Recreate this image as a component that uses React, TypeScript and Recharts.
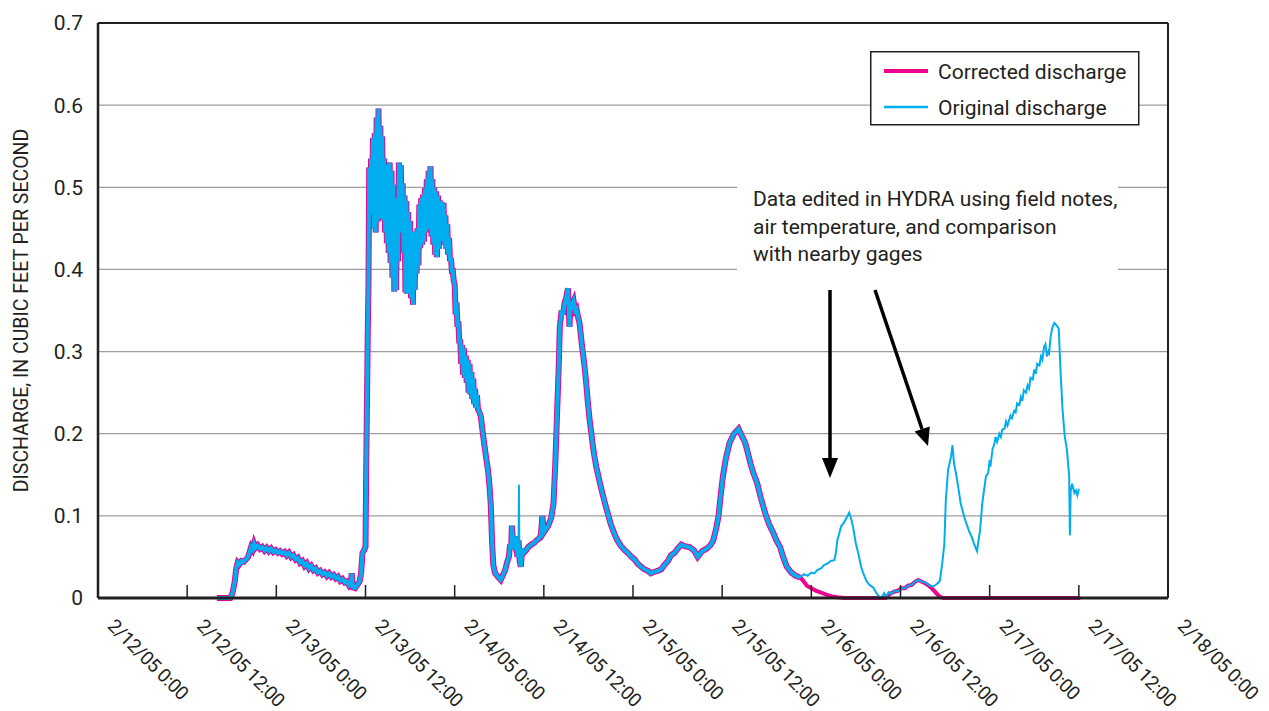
import React from "react";
import { LineChart, Line, XAxis, YAxis, CartesianGrid, ReferenceLine, Legend } from "recharts";

const FONT = "Roboto, 'Liberation Sans', sans-serif";
const INK = "#231f20";
const MAGENTA = "#ec008c";
const CYAN = "#00aeef";

// x is hours after 2/12/05 0:00
const xTicks = [0, 12, 24, 36, 48, 60, 72, 84, 96, 108, 120, 132, 144];
const xTickLabels = [
  "2/12/05 0:00", "2/12/05 12:00", "2/13/05 0:00", "2/13/05 12:00", "2/14/05 0:00",
  "2/14/05 12:00", "2/15/05 0:00", "2/15/05 12:00", "2/16/05 0:00", "2/16/05 12:00",
  "2/17/05 0:00", "2/17/05 12:00", "2/18/05 0:00",
];
const yTicks = [0, 0.1, 0.2, 0.3, 0.4, 0.5, 0.6, 0.7];
const yTickLabels = ["0", "0.1", "0.2", "0.3", "0.4", "0.5", "0.6", "0.7"];

// [hour, cfs] - record shared by both series
const baseflow: [number, number][] = [
  [16.0, 0], [17.0, 0], [17.8, 0], [18.1, 0.006], [18.4, 0.02], [18.6, 0.036], [18.8, 0.043],
  [19.0, 0.041], [19.3, 0.045], [19.6, 0.044], [19.9, 0.047], [20.2, 0.05], [20.4, 0.056],
  [20.6, 0.062], [20.8, 0.059], [21.0, 0.066], [21.2, 0.061], [21.5, 0.064], [21.8, 0.06],
  [22.1, 0.062], [22.4, 0.058], [22.7, 0.061], [23.0, 0.057], [23.3, 0.06], [23.6, 0.056],
  [23.9, 0.058], [24.2, 0.055], [24.5, 0.057], [24.8, 0.054], [25.1, 0.056], [25.4, 0.052],
  [25.7, 0.055], [26.0, 0.05], [26.3, 0.052], [26.6, 0.047], [26.9, 0.049], [27.2, 0.043],
  [27.5, 0.045], [27.8, 0.039], [28.1, 0.042], [28.4, 0.036], [28.7, 0.039], [29.0, 0.034],
  [29.3, 0.036], [29.6, 0.031], [29.9, 0.033], [30.2, 0.029], [30.5, 0.031], [30.8, 0.027],
  [31.1, 0.03], [31.4, 0.026], [31.7, 0.028], [32.0, 0.024], [32.3, 0.026], [32.6, 0.021],
  [32.9, 0.023], [33.2, 0.019], [33.5, 0.02], [33.8, 0.015], [34.0, 0.017], [34.15, 0.03],
  [34.3, 0.013], [34.6, 0.012], [34.9, 0.016], [35.2, 0.02], [35.4, 0.03], [35.6, 0.055],
  [35.8, 0.058], [36.0, 0.062], [36.1, 0.16], [36.2, 0.24], [36.3, 0.32], [36.4, 0.38],
];

// [hour, upper, lower] - noisy band of the 2/13 storm peak
const stormBand: [number, number, number][] = [
  [36.5, 0.524, 0.467], [36.75, 0.535, 0.47], [37.0, 0.56, 0.45], [37.25, 0.566, 0.445],
  [37.5, 0.585, 0.458], [37.75, 0.596, 0.47], [38.0, 0.575, 0.462], [38.25, 0.562, 0.46],
  [38.5, 0.535, 0.445], [38.75, 0.528, 0.432], [39.0, 0.526, 0.42], [39.25, 0.53, 0.408],
  [39.5, 0.52, 0.39], [39.75, 0.503, 0.373], [40.0, 0.487, 0.375], [40.25, 0.479, 0.41],
  [40.5, 0.53, 0.445], [40.75, 0.527, 0.45], [41.0, 0.505, 0.42], [41.25, 0.49, 0.372],
  [41.5, 0.483, 0.37], [41.75, 0.47, 0.372], [42.0, 0.459, 0.365], [42.25, 0.446, 0.357],
  [42.5, 0.446, 0.375], [42.75, 0.446, 0.395], [43.0, 0.45, 0.405], [43.25, 0.479, 0.426],
  [43.5, 0.487, 0.43], [43.75, 0.491, 0.434], [44.0, 0.499, 0.445], [44.25, 0.51, 0.45],
  [44.5, 0.52, 0.449], [44.75, 0.526, 0.44], [45.0, 0.51, 0.43], [45.25, 0.5, 0.418],
  [45.5, 0.495, 0.415], [45.75, 0.49, 0.425], [46.0, 0.484, 0.438], [46.25, 0.482, 0.435],
  [46.5, 0.481, 0.43], [46.75, 0.466, 0.425], [47.0, 0.455, 0.418], [47.25, 0.438, 0.41],
  [47.5, 0.414, 0.398], [47.75, 0.398, 0.386], [48.0, 0.382, 0.345], [48.25, 0.36, 0.33],
  [48.5, 0.337, 0.31], [48.75, 0.315, 0.285], [49.0, 0.308, 0.272], [49.25, 0.304, 0.268],
  [49.5, 0.295, 0.262], [49.75, 0.29, 0.25], [50.0, 0.285, 0.248], [50.25, 0.275, 0.242],
  [50.5, 0.267, 0.236], [50.75, 0.255, 0.232], [51.0, 0.247, 0.23],
];

const recession: [number, number][] = [
  [51.25, 0.228], [51.5, 0.222], [51.8, 0.2], [52.0, 0.186], [52.25, 0.17], [52.5, 0.155],
  [52.7, 0.135], [52.85, 0.115], [52.95, 0.09], [53.05, 0.065], [53.2, 0.04], [53.45, 0.03],
  [53.8, 0.026], [54.2, 0.022], [54.5, 0.028], [54.8, 0.034], [55.1, 0.045], [55.3, 0.05],
  [55.45, 0.065], [55.6, 0.06], [55.7, 0.088], [55.85, 0.07], [56.0, 0.066], [56.2, 0.075],
  [56.45, 0.05], [56.6, 0.07], [56.75, 0.045], [56.9, 0.038], [57.1, 0.06], [57.3, 0.055],
  [57.6, 0.058], [57.9, 0.062], [58.3, 0.065], [58.7, 0.067], [59.0, 0.07], [59.3, 0.072],
  [59.6, 0.076], [59.8, 0.1], [60.0, 0.08], [60.3, 0.084], [60.6, 0.088], [61.0, 0.098],
  [61.3, 0.115], [61.55, 0.165], [61.8, 0.23], [62.0, 0.28], [62.15, 0.33], [62.4, 0.35],
  [62.6, 0.345], [62.8, 0.36], [63.0, 0.365], [63.25, 0.377], [63.45, 0.33], [63.55, 0.35],
  [63.75, 0.357], [64.0, 0.362], [64.2, 0.35], [64.4, 0.352], [64.6, 0.342], [64.8, 0.335],
  [65.1, 0.31], [65.3, 0.295], [65.5, 0.28], [65.7, 0.262], [65.9, 0.24], [66.15, 0.218],
  [66.4, 0.2], [66.6, 0.185], [66.8, 0.173], [67.05, 0.16], [67.3, 0.15], [67.6, 0.138],
  [67.95, 0.125], [68.3, 0.113], [68.6, 0.103], [69.0, 0.09], [69.5, 0.078], [69.9, 0.07],
  [70.4, 0.063], [70.9, 0.058], [71.3, 0.055], [71.8, 0.05], [72.2, 0.047], [72.6, 0.042],
  [73.1, 0.038], [73.5, 0.035], [74.0, 0.033], [74.4, 0.03], [74.9, 0.032], [75.3, 0.033],
  [75.8, 0.035], [76.2, 0.04], [76.7, 0.045], [77.1, 0.052], [77.6, 0.055], [78.0, 0.06],
  [78.5, 0.065], [79.0, 0.063], [79.6, 0.062], [80.2, 0.058], [80.7, 0.05], [81.3, 0.057],
  [81.9, 0.06], [82.4, 0.064], [82.8, 0.07], [83.2, 0.085], [83.5, 0.099], [83.8, 0.125],
  [84.1, 0.148], [84.5, 0.17], [85.0, 0.189], [85.6, 0.2], [86.2, 0.206], [86.6, 0.198],
  [87.1, 0.189], [87.5, 0.175], [87.8, 0.164], [88.2, 0.152], [88.7, 0.14], [89.2, 0.122],
  [89.8, 0.103], [90.3, 0.09], [90.9, 0.079], [91.3, 0.07], [91.8, 0.062], [92.2, 0.05],
  [92.7, 0.038], [93.3, 0.031], [93.9, 0.027], [94.5, 0.025],
];

// after the two records split
const originalTail: [number, number][] = [
  [94.5, 0.025], [95.0, 0.029], [95.5, 0.027], [96.0, 0.031], [96.4, 0.03], [96.8, 0.034],
  [97.3, 0.036], [97.7, 0.04], [98.2, 0.042], [98.6, 0.045], [99.1, 0.046], [99.3, 0.055],
  [99.5, 0.07], [99.8, 0.08], [100.0, 0.087], [100.4, 0.092], [100.7, 0.097], [101.1, 0.104],
  [101.4, 0.095], [101.6, 0.087], [102.0, 0.066], [102.3, 0.055], [102.7, 0.038], [103.0, 0.03],
  [103.4, 0.021], [103.8, 0.016], [104.3, 0.013], [104.7, 0.007], [105.0, 0.003], [105.4, 0],
  [105.8, 0.006], [106.1, 0.001], [106.4, 0.007], [106.8, 0.005], [107.2, 0.009], [107.7, 0.008],
  [108.1, 0.012], [108.6, 0.012], [109.0, 0.015], [109.5, 0.016], [110.0, 0.02], [110.4, 0.022],
  [110.8, 0.02], [111.3, 0.019], [111.8, 0.016], [112.2, 0.014], [112.6, 0.015], [113.0, 0.018],
  [113.3, 0.021], [113.6, 0.041], [113.9, 0.066], [114.1, 0.119], [114.4, 0.156], [114.8, 0.172],
  [115.0, 0.186], [115.2, 0.164], [115.5, 0.15], [115.7, 0.139], [116.1, 0.115], [116.6, 0.098],
  [116.9, 0.09], [117.2, 0.082], [117.6, 0.074], [117.9, 0.066], [118.3, 0.057], [118.5, 0.07],
  [118.7, 0.082], [119.0, 0.115], [119.5, 0.148], [119.8, 0.152], [120.0, 0.168], [120.1, 0.16],
  [120.4, 0.182], [120.6, 0.186], [120.8, 0.196], [121.0, 0.19], [121.3, 0.2], [121.5, 0.196],
  [121.7, 0.205], [122.0, 0.206], [122.2, 0.215], [122.4, 0.21], [122.8, 0.222], [123.0, 0.219],
  [123.3, 0.228], [123.5, 0.226], [123.7, 0.237], [124.0, 0.235], [124.2, 0.245], [124.4, 0.24],
  [124.6, 0.253], [124.9, 0.25], [125.1, 0.259], [125.3, 0.255], [125.5, 0.268], [125.8, 0.266],
  [126.0, 0.278], [126.2, 0.273], [126.4, 0.285], [126.7, 0.283], [126.9, 0.294], [127.1, 0.29],
  [127.3, 0.305], [127.5, 0.309], [127.7, 0.294], [127.9, 0.3], [128.0, 0.298], [128.2, 0.318],
  [128.4, 0.328], [128.7, 0.335], [129.0, 0.332], [129.3, 0.328], [129.5, 0.283], [129.8, 0.23],
  [130.1, 0.197], [130.4, 0.18], [130.7, 0.148], [130.8, 0.076], [130.9, 0.13], [131.1, 0.139],
  [131.4, 0.128], [131.6, 0.131], [131.8, 0.125], [132.0, 0.133],
];
const originalSpike: [number, number][] = [[56.6, 0.06], [56.65, 0.138], [56.7, 0.06]];

const correctedTail: [number, number][] = [
  [94.5, 0.025], [95.0, 0.02], [95.4, 0.015], [96.0, 0.012], [96.6, 0.009], [97.2, 0.007],
  [98.0, 0.004], [98.8, 0.002], [99.5, 0.001], [100.4, 0], [106.0, 0], [106.4, 0.004],
  [106.8, 0.006], [107.2, 0.008], [107.7, 0.009], [108.1, 0.012], [108.6, 0.012], [109.0, 0.015],
  [109.5, 0.016], [110.0, 0.02], [110.4, 0.022], [110.8, 0.02], [111.3, 0.018], [111.8, 0.015],
  [112.2, 0.012], [112.6, 0.008], [113.0, 0.004], [113.4, 0.001], [113.8, 0], [132.2, 0],
];

const toRows = (pts: [number, number][]) => pts.map(([h, q]) => ({ h, q }));
const bandRows = stormBand.flatMap(([h, hi, lo]) => [
  { h, q: hi },
  { h: h + 0.125, q: lo },
]);
const sharedRows = [...toRows(baseflow), ...bandRows, ...toRows(recession)];

const legendWidths: Record<string, number> = {
  "Corrected discharge": 4,
  "Original discharge": 2.5,
};

const XTick = ({ x, y, payload }: any) => {
  const label = xTickLabels[xTicks.indexOf(payload.value)];
  const tx = x + 8.5;
  const ty = y + 29;
  return (
    <g>
      <line x1={x} x2={x} y1={y} y2={y - 13} stroke={INK} strokeWidth={1.5} />
      <text
        x={tx}
        y={ty}
        transform={`rotate(45 ${tx} ${ty})`}
        fontSize={19}
        letterSpacing={-0.5}
        fontFamily={FONT}
        fill={INK}
      >
        {label}
      </text>
    </g>
  );
};

const YTitle = ({ viewBox }: any) => {
  const x = viewBox.x + 28;
  const y = viewBox.y + viewBox.height / 2;
  return (
    <text
      x={x}
      y={y}
      transform={`rotate(-90 ${x} ${y})`}
      textAnchor="middle"
      fontSize={19.5}
      fontFamily={FONT}
      fill={INK}
    >
      DISCHARGE, IN CUBIC FEET PER SECOND
    </text>
  );
};

const LegendBox = ({ payload }: any) => {
  const items = (payload || []).filter((p: any) => legendWidths[p.value]);
  return (
    <svg width={270} height={75} style={{ display: "block" }}>
      <rect x={0.75} y={0.75} width={268} height={73} fill="#fff" stroke={INK} strokeWidth={1.5} />
      {items.map((p: any, i: number) => {
        const cy = 20 + i * 36;
        return (
          <g key={p.value}>
            <line x1={14} x2={58} y1={cy} y2={cy} stroke={p.color} strokeWidth={legendWidths[p.value]} />
            <text x={68} y={cy} dy="0.36em" fontSize={21} fontFamily={FONT} fill={INK}>
              {p.value}
            </text>
          </g>
        );
      })}
    </svg>
  );
};

const Annotation = () => (
  <svg
    width={1269}
    height={711}
    style={{ position: "absolute", left: 0, top: 0, pointerEvents: "none" }}
  >
    <rect x={737} y={179} width={381} height={98} fill="#fff" />
    <text fontSize={21} fontFamily={FONT} fill={INK}>
      <tspan x={753} y={206}>Data edited in HYDRA using field notes,</tspan>
      <tspan x={753} y={234}>air temperature, and comparison</tspan>
      <tspan x={753} y={261}>with nearby gages</tspan>
    </text>
    <line x1={830} y1={290} x2={830} y2={462} stroke="#000" strokeWidth={3.5} />
    <polygon points="830,478 822,458 838,458" fill="#000" />
    <line x1={875} y1={290} x2={922} y2={429} stroke="#000" strokeWidth={3.5} />
    <polygon points="928,446 914.6,431.6 929.8,426.4" fill="#000" />
  </svg>
);

export default function App() {
  return (
    <div style={{ position: "absolute", left: 0, top: 0, width: 1269, height: 711, background: "#fff" }}>
      <LineChart width={1269} height={711} margin={{ top: 23, right: 101, bottom: 0, left: 0 }}>
        <CartesianGrid horizontal vertical={false} stroke="#9d9d9d" strokeWidth={1.3} />
        <XAxis
          type="number"
          dataKey="h"
          domain={[0, 144]}
          ticks={xTicks}
          interval={0}
          height={113}
          tickSize={0}
          tickMargin={0}
          tickLine={false}
          axisLine={{ stroke: INK, strokeWidth: 3 }}
          tick={<XTick />}
        />
        <YAxis
          type="number"
          domain={[0, 0.7]}
          ticks={yTicks}
          interval={0}
          width={98}
          tickSize={0}
          tickMargin={15}
          tickLine={false}
          axisLine={{ stroke: INK, strokeWidth: 2.5 }}
          tickFormatter={(v: number) => yTickLabels[yTicks.indexOf(v)] ?? String(v)}
          tick={{ fontSize: 21, fontFamily: FONT, fill: INK }}
          label={YTitle}
        />
        <ReferenceLine y={0.7} stroke={INK} strokeWidth={2} />
        <ReferenceLine x={144} stroke={INK} strokeWidth={2} />
        <Legend
          layout="vertical"
          align="center"
          verticalAlign="middle"
          wrapperStyle={{ left: 870, top: 51, width: 270, height: 75 }}
          content={<LegendBox />}
        />
        <Line
          data={sharedRows}
          dataKey="q"
          name="Corrected discharge"
          type="linear"
          stroke={MAGENTA}
          strokeWidth={6}
          dot={false}
          isAnimationActive={false}
        />
        <Line
          data={toRows(correctedTail)}
          dataKey="q"
          name="corrected-tail"
          legendType="none"
          type="linear"
          stroke={MAGENTA}
          strokeWidth={4}
          dot={false}
          isAnimationActive={false}
        />
        <Line
          data={sharedRows}
          dataKey="q"
          name="Original discharge"
          type="linear"
          stroke={CYAN}
          strokeWidth={4}
          dot={false}
          isAnimationActive={false}
        />
        <Line
          data={toRows(originalTail)}
          dataKey="q"
          name="original-tail"
          legendType="none"
          type="linear"
          stroke={CYAN}
          strokeWidth={2}
          dot={false}
          isAnimationActive={false}
        />
        <Line
          data={toRows(originalSpike)}
          dataKey="q"
          name="original-spike"
          legendType="none"
          type="linear"
          stroke={CYAN}
          strokeWidth={2}
          dot={false}
          isAnimationActive={false}
        />
      </LineChart>
      <Annotation />
    </div>
  );
}
